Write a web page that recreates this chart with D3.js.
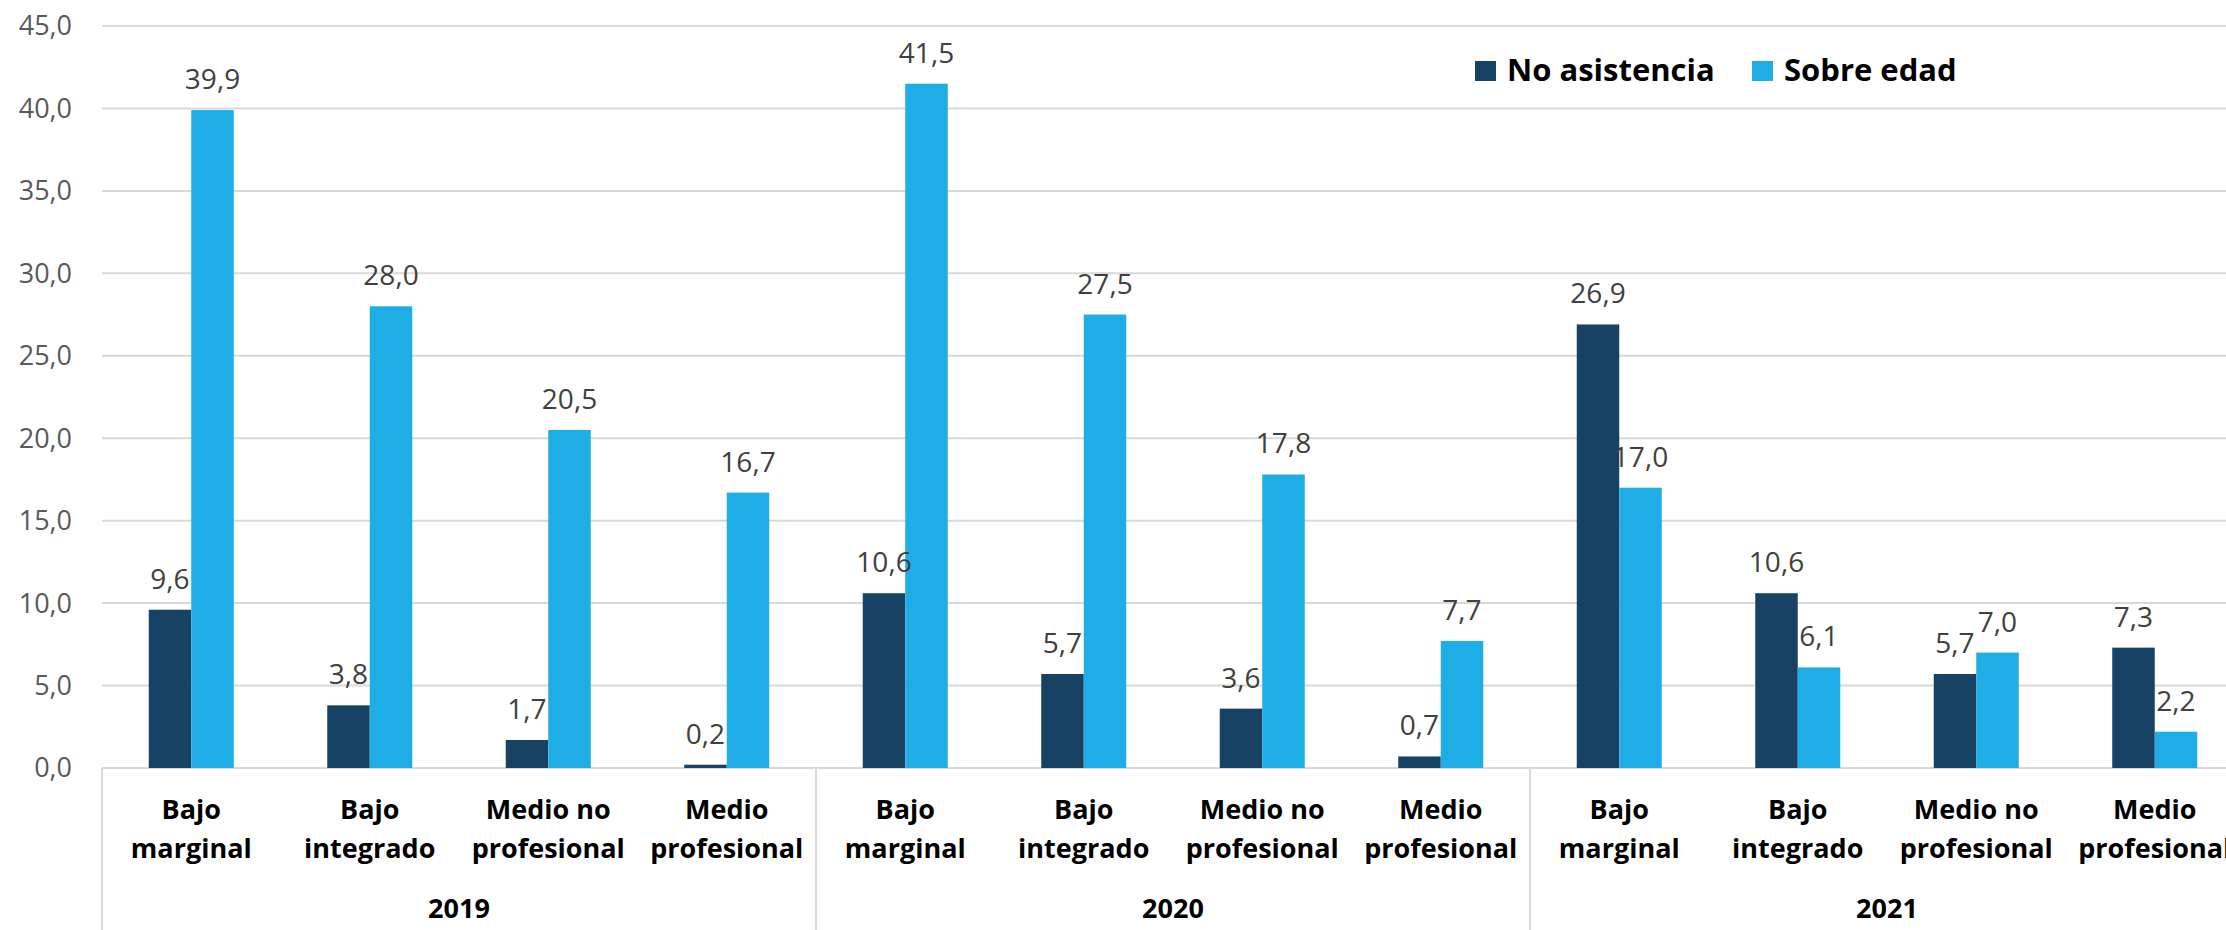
<!DOCTYPE html>
<html>
<head>
<meta charset="utf-8">
<script src="https://cdn.jsdelivr.net/npm/d3@7"></script>
<style>
  body { margin: 0; background: #fff; }
  svg { display: block; }
  .tick-label { font-family: 'Open Sans', sans-serif; font-size: 27px; fill: #595959; }
  .value { font-family: 'Open Sans', sans-serif; font-size: 28px; fill: #404040; }
  .cat-label, .year-label { font-family: 'Open Sans', sans-serif; font-size: 27px; font-weight: bold; fill: #000; }
  .legend-label { font-family: 'Open Sans', sans-serif; font-size: 31px; font-weight: bold; fill: #000; }
</style>
</head>
<body>
<div id="chart"></div>
<script>
// data
const years = ['2019', '2020', '2021'];
const groups = [['Bajo', 'marginal'], ['Bajo', 'integrado'], ['Medio no', 'profesional'], ['Medio', 'profesional']];
const seriesNames = ['No asistencia', 'Sobre edad'];
const noAsistencia = [9.6, 3.8, 1.7, 0.2, 10.6, 5.7, 3.6, 0.7, 26.9, 10.6, 5.7, 7.3];
const sobreEdad = [39.9, 28.0, 20.5, 16.7, 41.5, 27.5, 17.8, 7.7, 17.0, 6.1, 7.0, 2.2];
const yTicks = [0, 5, 10, 15, 20, 25, 30, 35, 40, 45];

const colors = ['#174263', '#1eade4'];

// layout
const width = 2226, height = 930;
const margin = {t: 26, l: 102};
const plotRight = 2244;   // plot runs past the right edge, like the reference
const zeroY = 768;

// rows: one per year/group pair
const rows = [];
years.forEach((yr, yi) => {
    groups.forEach((g, gi) => {
        const i = yi * groups.length + gi;
        rows.push({key: yr + '-' + gi, year: yr, label: g, values: [noAsistencia[i], sobreEdad[i]]});
    });
});

const svg = d3.select('#chart').append('svg')
    .attr('width', width)
    .attr('height', height);

// scales
const scaleX = d3.scaleBand()
    .domain(rows.map(d => d.key))
    .range([margin.l, plotRight]);

const scaleYear = d3.scaleBand()
    .domain(years)
    .range([margin.l, plotRight]);

const scaleSeries = d3.scaleBand()
    .domain([0, 1])
    .range([0, scaleX.bandwidth()])
    .paddingOuter(1.1);

const scaleY = d3.scaleLinear()
    .domain([0, 45])
    .range([zeroY, margin.t]);

const fmt = v => d3.format('.1f')(v).replace('.', ',');

// gridlines
svg.append('g').selectAll('line')
    .data(yTicks)
    .join('line')
    .attr('x1', margin.l)
    .attr('x2', width)
    .attr('y1', d => scaleY(d))
    .attr('y2', d => scaleY(d))
    .attr('stroke', '#d9d9d9')
    .attr('stroke-width', 2);

// y tick labels
svg.append('g').selectAll('text')
    .data(yTicks)
    .join('text')
    .attr('class', 'tick-label')
    .attr('x', 72)
    .attr('y', d => scaleY(d))
    .attr('dy', '0.35em')
    .attr('text-anchor', 'end')
    .text(d => fmt(d));

// group separators under the axis
svg.append('g').selectAll('line')
    .data(years)
    .join('line')
    .attr('x1', d => scaleYear(d))
    .attr('x2', d => scaleYear(d))
    .attr('y1', zeroY)
    .attr('y2', height)
    .attr('stroke', '#d9d9d9')
    .attr('stroke-width', 2);

// bars
const cat = svg.append('g').selectAll('g')
    .data(rows)
    .join('g')
    .attr('transform', d => `translate(${scaleX(d.key)},0)`);

cat.selectAll('rect')
    .data(d => d.values.map((v, i) => ({v, i})))
    .join('rect')
    .attr('x', d => scaleSeries(d.i))
    .attr('y', d => scaleY(d.v))
    .attr('width', scaleSeries.bandwidth())
    .attr('height', d => zeroY - scaleY(d.v))
    .attr('fill', d => colors[d.i]);

// value labels
cat.selectAll('.value')
    .data(d => d.values.map((v, i) => ({v, i})))
    .join('text')
    .attr('class', 'value')
    .attr('x', d => scaleSeries(d.i) + scaleSeries.bandwidth() / 2)
    .attr('y', d => scaleY(d.v) - 21)
    .attr('text-anchor', 'middle')
    .text(d => fmt(d.v));

// category labels (two lines)
cat.append('text')
    .attr('class', 'cat-label')
    .attr('text-anchor', 'middle')
    .selectAll('tspan')
    .data(d => d.label)
    .join('tspan')
    .attr('x', scaleX.bandwidth() / 2)
    .attr('y', (d, i) => 819 + i * 39)
    .text(d => d);

// year labels
svg.append('g').selectAll('text')
    .data(years)
    .join('text')
    .attr('class', 'year-label')
    .attr('x', d => scaleYear(d) + scaleYear.bandwidth() / 2)
    .attr('y', 918)
    .attr('text-anchor', 'middle')
    .text(d => d);

// legend
const legendX = [1475, 1752];
const legend = svg.append('g').selectAll('g')
    .data(seriesNames)
    .join('g')
    .attr('transform', (d, i) => `translate(${legendX[i]},0)`);

legend.append('rect')
    .attr('x', 0)
    .attr('y', 61)
    .attr('width', 21)
    .attr('height', 20)
    .attr('fill', (d, i) => colors[i]);

legend.append('text')
    .attr('class', 'legend-label')
    .attr('x', 32)
    .attr('y', 81)
    .text(d => d);
</script>
</body>
</html>
